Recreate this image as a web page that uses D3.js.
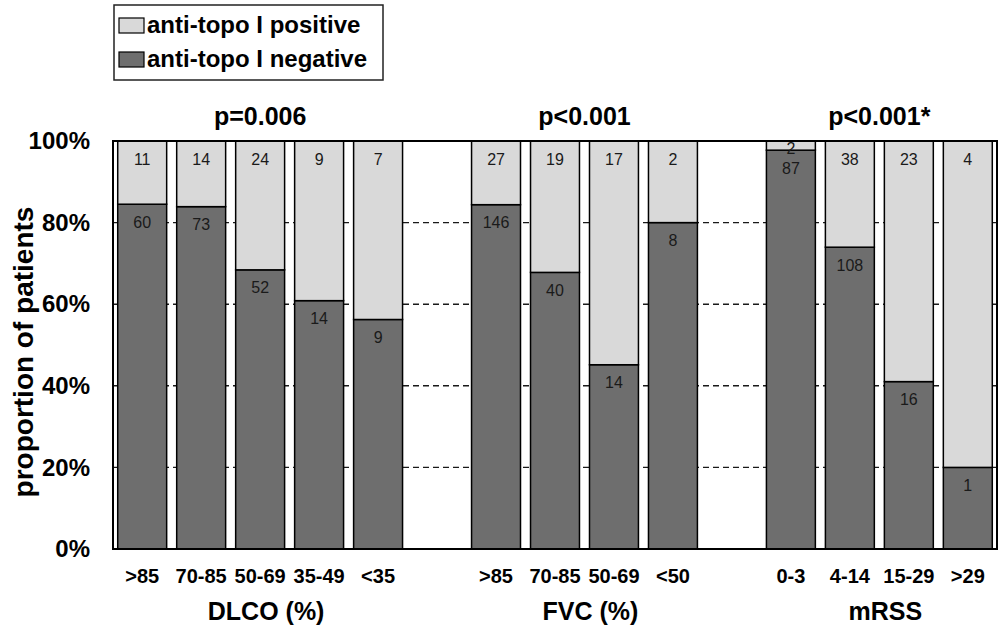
<!DOCTYPE html>
<html>
<head>
<meta charset="utf-8">
<script src="https://cdn.jsdelivr.net/npm/d3@7"></script>
<style>
  html, body { margin: 0; padding: 0; background: #fff; }
  svg { display: block; font-family: Arial, "Liberation Sans", sans-serif; }
</style>
</head>
<body>
<svg id="chart" width="1004" height="633"></svg>
<script>
// ---- data ----
const groupNames = ["DLCO (%)", "FVC (%)", "mRSS"];
const groupPvalues = ["p=0.006", "p<0.001", "p<0.001*"];
const dlcoCats = [">85", "70-85", "50-69", "35-49", "<35"];
const dlcoNeg = [60, 73, 52, 14, 9];
const dlcoPos = [11, 14, 24, 9, 7];
const fvcCats = [">85", "70-85", "50-69", "<50"];
const fvcNeg = [146, 40, 14, 8];
const fvcPos = [27, 19, 17, 2];
const mrssCats = ["0-3", "4-14", "15-29", ">29"];
const mrssNeg = [87, 108, 16, 1];
const mrssPos = [2, 38, 23, 4];
const yTicks = [0, 0.2, 0.4, 0.6, 0.8, 1.0];
const gridTicks = [0.2, 0.4, 0.6, 0.8];
const legendLabels = ["anti-topo I positive", "anti-topo I negative"];
const yTitle = "proportion of patients";

// ---- build rows ----
const groups = [
  { name: groupNames[0], p: groupPvalues[0], cats: dlcoCats, neg: dlcoNeg, pos: dlcoPos },
  { name: groupNames[1], p: groupPvalues[1], cats: fvcCats, neg: fvcNeg, pos: fvcPos },
  { name: groupNames[2], p: groupPvalues[2], cats: mrssCats, neg: mrssNeg, pos: mrssPos }
];
const slots = [];
const rows = [];
groups.forEach((g, gi) => {
  if (gi > 0) slots.push("gap" + gi);
  g.keys = [];
  g.cats.forEach((c, i) => {
    const key = gi + "|" + c;
    slots.push(key);
    g.keys.push(key);
    rows.push({ key, label: c, neg: g.neg[i], pos: g.pos[i], group: gi });
  });
});
const labelOf = {};
rows.forEach(r => labelOf[r.key] = r.label);

// ---- layout ----
const L = 113, R = 997, T = 141, B = 549;
const colPos = "#d9d9d9", colNeg = "#6e6e6e";

const svg = d3.select("#chart");
const x = d3.scaleBand().domain(slots).range([L, R]).paddingInner(0.17).paddingOuter(0.08);
const y = d3.scaleLinear().domain([0, 1]).range([B, T]);

// gridlines
svg.append("g").selectAll("line").data(gridTicks).join("line")
  .attr("x1", L).attr("x2", R)
  .attr("y1", d => y(d)).attr("y2", d => y(d))
  .attr("stroke", "#1a1a1a").attr("stroke-width", 1.4)
  .attr("stroke-dasharray", "6,4");

// stacked bars
const stack = d3.stack().keys(["neg", "pos"])
  .offset(d3.stackOffsetExpand);
const series = stack(rows);
const colors = { neg: colNeg, pos: colPos };

const barG = svg.append("g");
series.forEach(s => {
  barG.append("g").selectAll("rect").data(s).join("rect")
    .attr("x", d => x(d.data.key))
    .attr("width", x.bandwidth())
    .attr("y", d => y(d[1]))
    .attr("height", d => y(d[0]) - y(d[1]))
    .attr("fill", colors[s.key])
    .attr("stroke", "#000").attr("stroke-width", 1.5);
});

// value labels
const lblG = svg.append("g").attr("font-size", 16).attr("fill", "#1a1a1a").attr("text-anchor", "middle");
series.forEach(s => {
  lblG.append("g").selectAll("text").data(s).join("text")
    .attr("x", d => x(d.data.key) + x.bandwidth() / 2)
    .attr("y", d => {
      const top = y(d[1]), bot = y(d[0]);
      return Math.min(top + 18, bot - 2);
    })
    .attr("dy", "0.35em")
    .text(d => d.data[s.key]);
});

// frame
svg.append("rect").attr("x", L).attr("y", T).attr("width", R - L).attr("height", B - T)
  .attr("fill", "none").attr("stroke", "#000").attr("stroke-width", 2);

// y axis
const yAxis = svg.append("g").attr("transform", `translate(${L},0)`)
  .call(d3.axisLeft(y).tickValues(yTicks).tickFormat(d3.format(".0%")).tickSize(0).tickPadding(23));
yAxis.select(".domain").remove();
yAxis.selectAll("text").attr("font-size", 24).attr("font-weight", "bold").attr("fill", "#000")
  .attr("font-family", "Arial, 'Liberation Sans', sans-serif");

// y title
svg.append("text")
  .attr("transform", "translate(33,352) rotate(-90)")
  .attr("text-anchor", "middle")
  .attr("font-size", 28).attr("font-weight", "bold").attr("fill", "#000")
  .text(yTitle);

// x axis category labels
const xAxis = svg.append("g").attr("transform", `translate(0,${B})`)
  .call(d3.axisBottom(x).tickValues(rows.map(r => r.key)).tickFormat(k => labelOf[k]).tickSize(0).tickPadding(20));
xAxis.select(".domain").remove();
xAxis.selectAll("text").attr("font-size", 20).attr("font-weight", "bold").attr("fill", "#000")
  .attr("font-family", "Arial, 'Liberation Sans', sans-serif");

// group titles and p-values
groups.forEach(g => {
  const x0 = x(g.keys[0]);
  const x1 = x(g.keys[g.keys.length - 1]) + x.bandwidth();
  const cx = (x0 + x1) / 2;
  svg.append("text").attr("x", cx + 6).attr("y", 620)
    .attr("text-anchor", "middle").attr("font-size", 25).attr("font-weight", "bold")
    .text(g.name);
  svg.append("text").attr("x", cx).attr("y", 125)
    .attr("text-anchor", "middle").attr("font-size", 25).attr("font-weight", "bold")
    .text(g.p);
});

// legend
const lg = svg.append("g");
lg.append("rect").attr("x", 114).attr("y", 5).attr("width", 269).attr("height", 75)
  .attr("fill", "#fff").attr("stroke", "#222").attr("stroke-width", 1.5);
const legendColors = [colPos, colNeg];
legendLabels.forEach((t, i) => {
  lg.append("rect").attr("x", 119).attr("y", 18 + i * 34).attr("width", 25).attr("height", 15)
    .attr("fill", legendColors[i]).attr("stroke", "#000").attr("stroke-width", 1.2);
  lg.append("text").attr("x", 147).attr("y", 33 + i * 34)
    .attr("font-size", 24).attr("font-weight", "bold").attr("fill", "#000")
    .text(t);
});
</script>
</body>
</html>
